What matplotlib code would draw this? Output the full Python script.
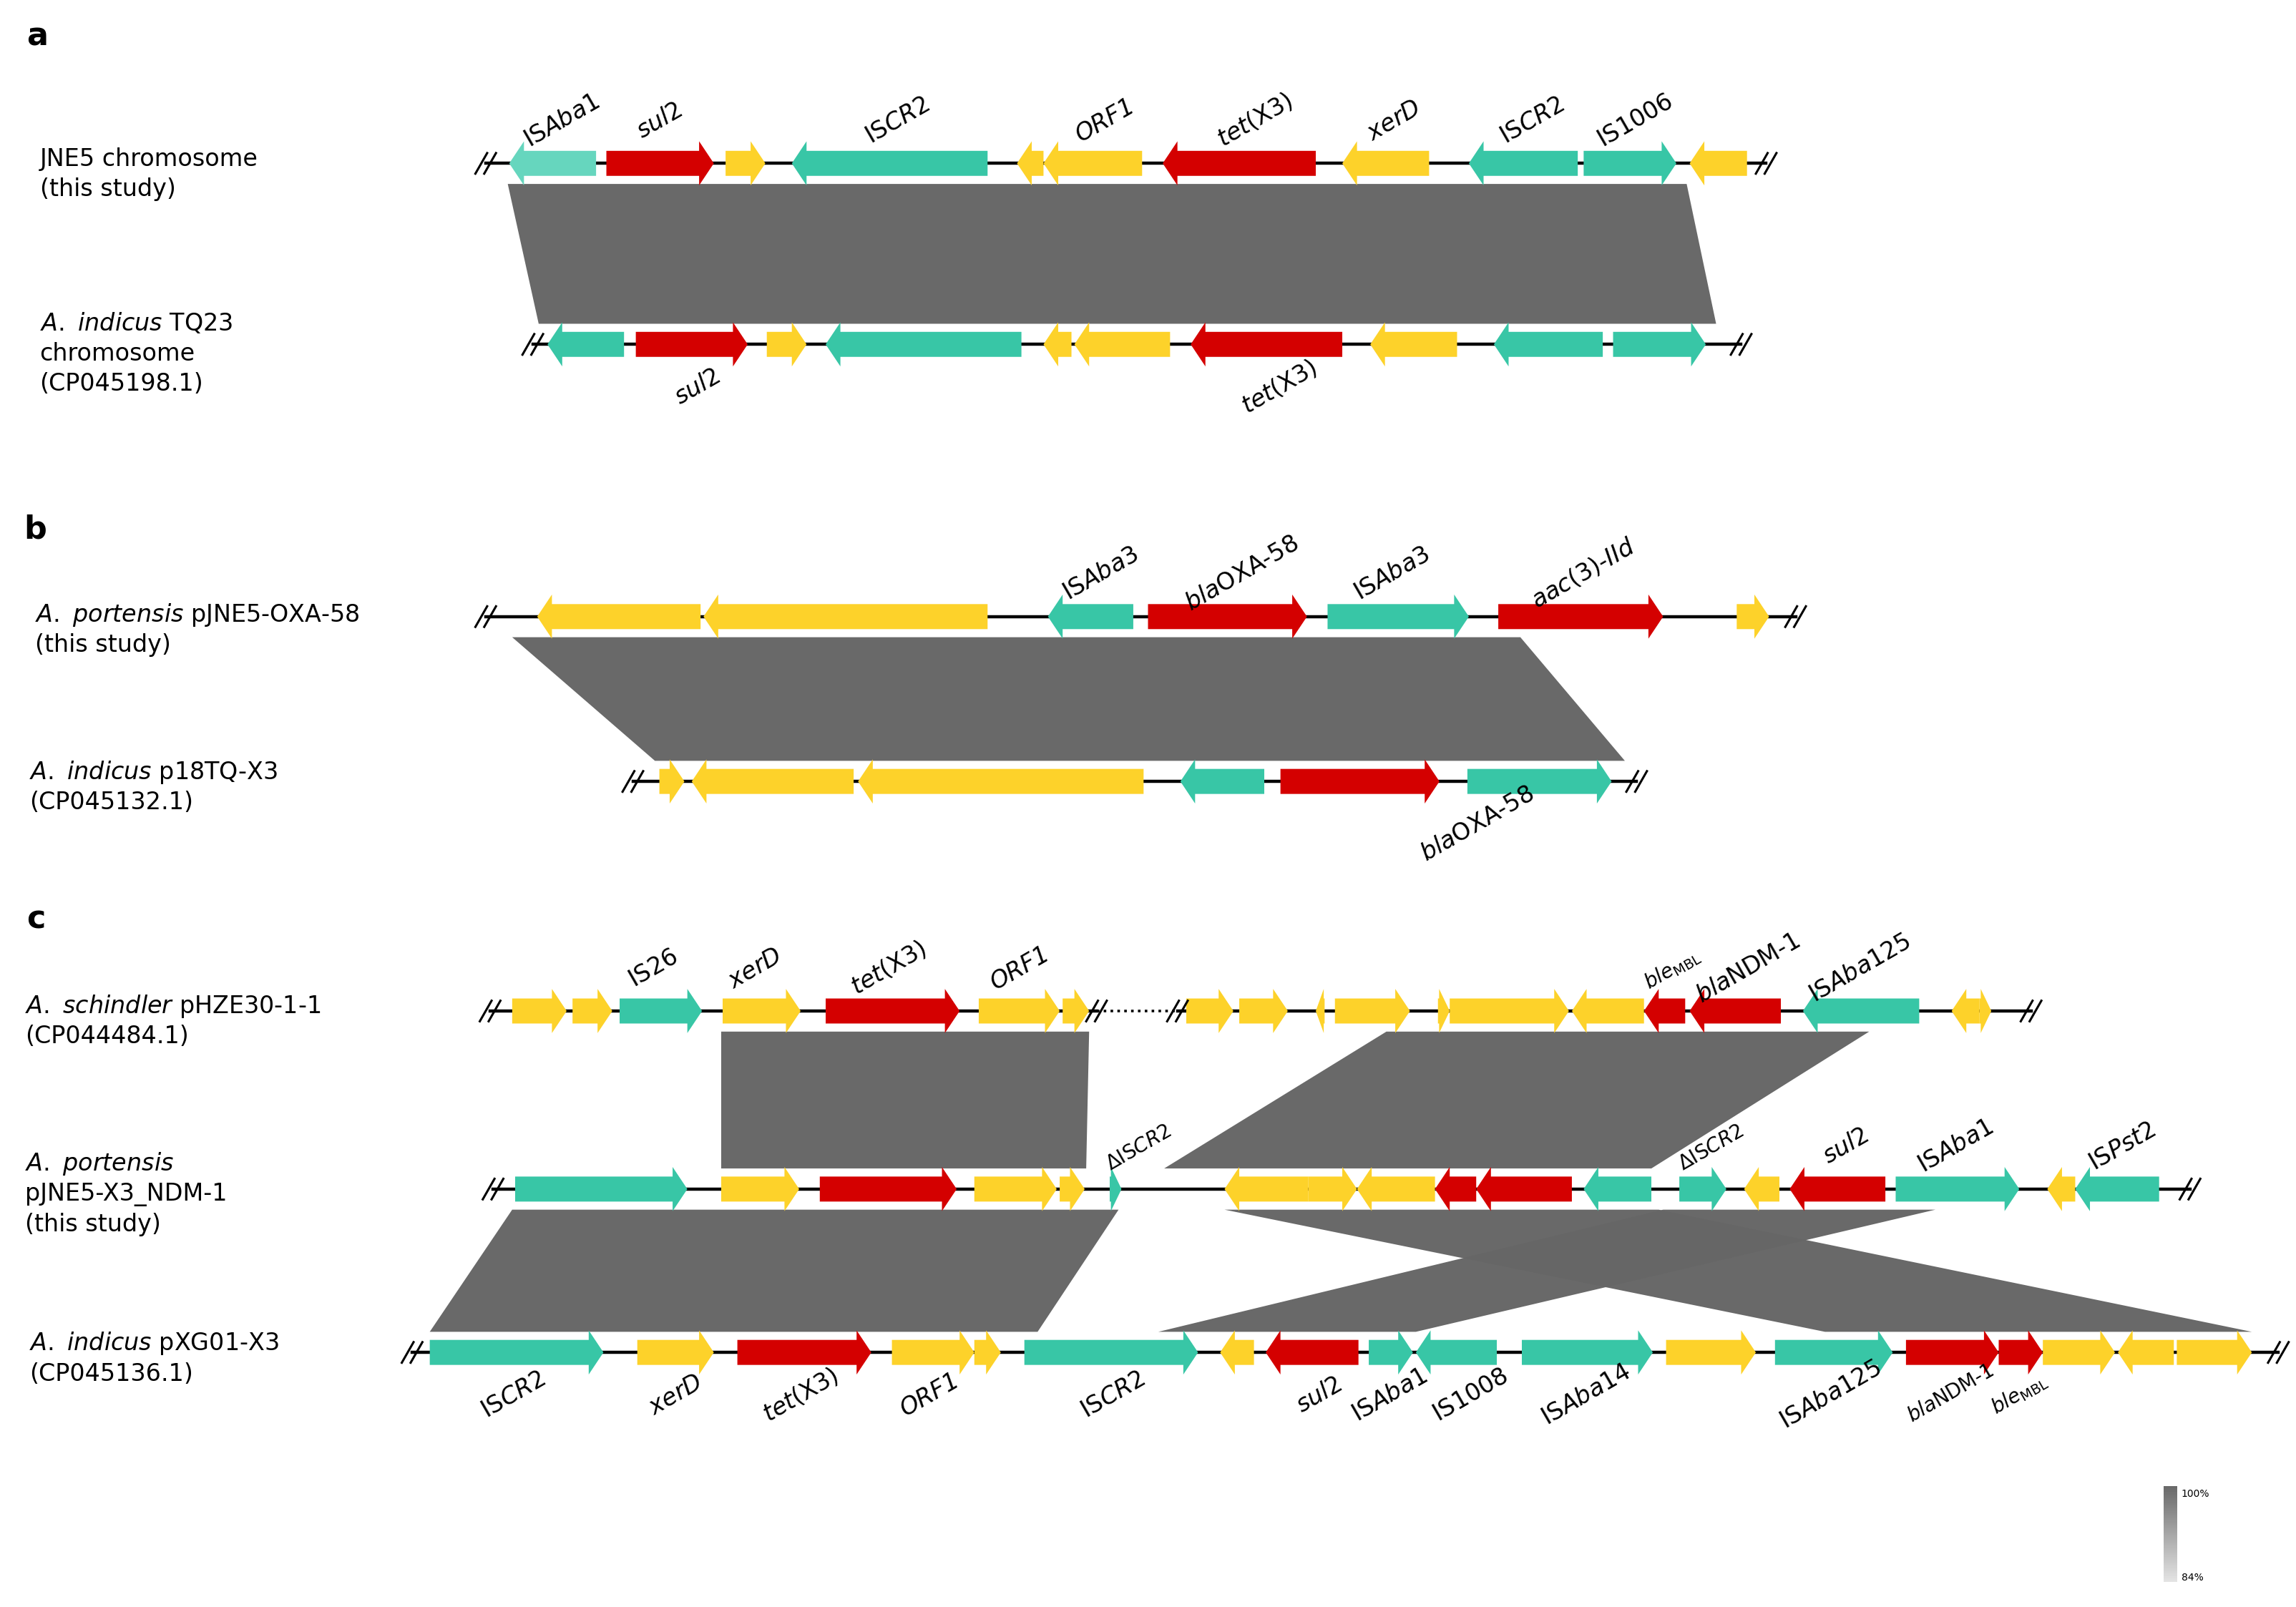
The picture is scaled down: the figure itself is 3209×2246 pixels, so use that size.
import matplotlib
matplotlib.use("Agg")
import matplotlib.pyplot as plt
from matplotlib.patches import Polygon
import numpy as np

plt.rcParams['font.family'] = ['DejaVu Sans']
plt.rcParams['mathtext.fontset'] = 'custom'
plt.rcParams['mathtext.it'] = 'DejaVu Sans:italic'
plt.rcParams['mathtext.rm'] = 'DejaVu Sans'

Y, T, R, L = '#FDD22A', '#38C6A6', '#D40000', '#66D6BE'

# ---------- tracks: (y, line_start, line_end) ----------
track_y = [111, 234, 419, 531, 687, 808, 919]
line_start = [330, 362, 330, 430, 333, 335, 280]
line_end = [1200, 1183, 1220, 1112, 1380, 1488, 1548]

# genes per track: start, end, strand (+1/-1), colour
a1_start = [346, 412, 493, 538, 691, 709, 790, 912, 998, 1076, 1148]
a1_end = [405, 485, 520, 671, 709, 776, 894, 971, 1072, 1139, 1187]
a1_strand = [-1, 1, 1, -1, -1, -1, -1, -1, -1, 1, -1]
a1_col = [L, R, Y, T, Y, Y, R, Y, T, T, Y]

a2_start = [372, 432, 521, 561, 709, 730, 809, 931, 1015, 1096]
a2_end = [424, 508, 548, 694, 728, 795, 912, 990, 1089, 1159]
a2_strand = [-1, 1, 1, -1, -1, -1, -1, -1, -1, 1]
a2_col = [T, R, Y, T, Y, Y, R, Y, T, T]

b1_start = [365, 478, 712, 780, 902, 1018, 1180]
b1_end = [476, 671, 770, 888, 998, 1130, 1202]
b1_strand = [-1, -1, -1, 1, 1, 1, 1]
b1_col = [Y, Y, T, R, T, R, Y]

b2_start = [448, 470, 583, 802, 870, 997]
b2_end = [465, 580, 777, 859, 978, 1095]
b2_strand = [1, -1, -1, -1, 1, 1]
b2_col = [Y, Y, Y, T, R, T]

c1_start = [348, 389, 421, 491, 561, 665, 722, 806, 842, 894, 907, 977, 985, 1068, 1117, 1148, 1225, 1326, 1345]
c1_end = [385, 416, 477, 544, 652, 720, 740, 838, 875, 900, 958, 985, 1066, 1117, 1145, 1210, 1304, 1345, 1353]
c1_strand = [1, 1, 1, 1, 1, 1, 1, 1, 1, -1, 1, 1, 1, -1, -1, -1, -1, -1, 1]
c1_col = [Y, Y, T, Y, R, Y, Y, Y, Y, Y, Y, Y, Y, Y, R, R, T, Y, Y]

c2_start = [350, 490, 557, 662, 720, 754, 832, 889, 922, 975, 1003, 1076, 1141, 1185, 1216, 1288, 1391, 1410]
c2_end = [467, 543, 650, 718, 737, 762, 889, 922, 975, 1003, 1068, 1122, 1173, 1209, 1281, 1372, 1410, 1467]
c2_strand = [1, 1, 1, 1, 1, 1, -1, 1, -1, -1, -1, -1, 1, -1, -1, 1, -1, -1]
c2_col = [T, Y, R, Y, Y, T, Y, Y, Y, R, R, T, T, Y, R, T, Y, T]

c3_start = [292, 433, 501, 606, 662, 696, 829, 860, 930, 962, 1034, 1132, 1206, 1295, 1358, 1388, 1439, 1479]
c3_end = [410, 485, 592, 662, 680, 814, 852, 923, 960, 1017, 1123, 1193, 1286, 1358, 1388, 1437, 1477, 1530]
c3_strand = [1, 1, 1, 1, 1, 1, -1, -1, 1, -1, 1, 1, 1, 1, 1, 1, -1, 1]
c3_col = [T, Y, R, Y, Y, T, Y, R, T, T, T, Y, T, R, R, Y, Y, Y]

genes = [
    (a1_start, a1_end, a1_strand, a1_col),
    (a2_start, a2_end, a2_strand, a2_col),
    (b1_start, b1_end, b1_strand, b1_col),
    (b2_start, b2_end, b2_strand, b2_col),
    (c1_start, c1_end, c1_strand, c1_col),
    (c2_start, c2_end, c2_strand, c2_col),
    (c3_start, c3_end, c3_strand, c3_col),
]

# gene labels: (track, x, text, above?)
lab_track = [0]*8 + [1, 1] + [2]*4 + [3] + [4]*7 + [5]*5 + [6]*12
lab_x = [386, 452, 614, 755, 857, 951, 1045, 1115,
         470, 865,
         752, 848, 950, 1080,
         1000,
         448, 517, 608, 697, 1140, 1192, 1268,
         777, 1166, 1258, 1333, 1446,
         345, 455, 540, 628, 752, 892, 940, 995, 1074, 1240, 1322, 1368]
lab_text = [r'IS$\it{Aba1}$', r'$\it{sul2}$', 'IS$\it{CR2}$', 'ORF1', r'$\it{tet}$(X3)', r'$\it{xerD}$', r'IS$\it{CR2}$', r'IS$\it{1006}$',
            r'$\it{sul2}$', r'$\it{tet}$(X3)',
            r'IS$\it{Aba3}$', r'$\it{bla}$OXA-58', r'IS$\it{Aba3}$', r'$\it{aac(3)}$-$\it{IId}$',
            r'$\it{bla}$OXA-58',
            r'IS$\it{26}$', r'$\it{xerD}$', r'$\it{tet}$(X3)', 'ORF1', r'$\it{ble}_{\rm MBL}$', r'$\it{bla}$NDM-1', r'IS$\it{Aba125}$',
            r'ΔIS$\it{CR2}$', r'ΔIS$\it{CR2}$', r'$\it{sul2}$', r'IS$\it{Aba1}$', r'IS$\it{Pst2}$',
            r'IS$\it{CR2}$', r'$\it{xerD}$', r'$\it{tet}$(X3)', 'ORF1', r'IS$\it{CR2}$', r'$\it{sul2}$', r'IS$\it{Aba1}$',
            r'IS$\it{1008}$', r'IS$\it{Aba14}$', r'IS$\it{Aba125}$', r'$\it{bla}$NDM-1', r'$\it{ble}_{\rm MBL}$']
lab_above = [True]*8 + [False]*2 + [True]*4 + [False] + [True]*7 + [True]*5 + [False]*12
lab_size = [12]*len(lab_x)
for i in (19, 22, 23, 37, 38):
    lab_size[i] = 10

# homology blocks: top track, top x0, top x1, bottom x0, bottom x1
blk_top = [0, 2, 4, 4, 5, 5, 5]
blk_tx0 = [345, 348, 490, 942, 348, 832, 1130]
blk_tx1 = [1146, 1033, 740, 1270, 760, 1127, 1315]
blk_bx0 = [366, 445, 490, 791, 292, 1240, 787]
blk_bx1 = [1166, 1104, 738, 1122, 705, 1530, 962]

names = [
    (108, ['JNE5 chromosome', '(this study)']),
    (220, [r'$\it{A.\ indicus}$ TQ23', 'chromosome', '(CP045198.1)']),
    (418, [r'$\it{A.\ portensis}$ pJNE5-OXA-58', '(this study)']),
    (525, [r'$\it{A.\ indicus}$ p18TQ-X3', '(CP045132.1)']),
    (684, [r'$\it{A.\ schindler}$ pHZE30-1-1', '(CP044484.1)']),
    (791, [r'$\it{A.\ portensis}$', 'pJNE5-X3_NDM-1', '(this study)']),
    (913, [r'$\it{A.\ indicus}$ pXG01-X3', '(CP045136.1)']),
]
name_x = [27, 27, 24, 20, 17, 17, 20]

# ---------------- drawing ----------------
fig = plt.figure(figsize=(3209/200, 2246/200), dpi=200)
ax = fig.add_axes([0, 0, 1, 1])
ax.set_xlim(0, 1560)
ax.set_ylim(1092, 0)
ax.axis('off')

BH, HH, HL = 8.5, 15, 10

def brk(x, y):
    for d in (-3, 3):
        ax.plot([x + d - 4, x + d + 4], [y + 7, y - 7], color='black', lw=1.1, zorder=4)

for ti, y in enumerate(track_y):
    x0, x1 = line_start[ti], line_end[ti]
    if ti == 4:
        ax.plot([x0, 745], [y, y], color='black', lw=1.6, zorder=1)
        ax.plot([745, 800], [y, y], color='black', lw=1.3, ls=':', zorder=1)
        ax.plot([800, x1], [y, y], color='black', lw=1.6, zorder=1)
        brk(745, y); brk(800, y)
    else:
        ax.plot([x0, x1], [y, y], color='black', lw=1.6, zorder=1)
    brk(x0, y); brk(x1, y)
    s, e, st, c = genes[ti]
    for a, b, d, col in zip(s, e, st, c):
        hl = min(HL, (b - a) * 0.9)
        if d > 0:
            pts = [(a, y - BH), (b - hl, y - BH), (b - hl, y - HH), (b, y), (b - hl, y + HH), (b - hl, y + BH), (a, y + BH)]
        else:
            pts = [(b, y - BH), (a + hl, y - BH), (a + hl, y - HH), (a, y), (a + hl, y + HH), (a + hl, y + BH), (b, y + BH)]
        ax.add_patch(Polygon(pts, closed=True, facecolor=col, edgecolor='none', zorder=3))

for t, a, b, c, d in zip(blk_top, blk_tx0, blk_tx1, blk_bx0, blk_bx1):
    yt = track_y[t] + 14
    yb = track_y[t + 1] - 14
    ax.add_patch(Polygon([(a, yt), (b, yt), (d, yb), (c, yb)], closed=True,
                         facecolor='#666666', edgecolor='none', alpha=0.98, zorder=2))

for t, x, txt, up, fs in zip(lab_track, lab_x, lab_text, lab_above, lab_size):
    y = track_y[t]
    sty = 'italic' if txt == 'ORF1' else 'normal'
    if up:
        ax.text(x, y - 22, txt, rotation=30, ha='center', va='bottom', rotation_mode='anchor',
                fontsize=fs, fontstyle=sty, zorder=5)
    else:
        ax.text(x, y + 22, txt, rotation=30, ha='center', va='top', rotation_mode='anchor',
                fontsize=fs, fontstyle=sty, zorder=5)

for (y, lines), x in zip(names, name_x):
    for k, ln in enumerate(lines):
        ax.text(x, y + 20.5 * k, ln, fontsize=12, va='center', ha='left')

for lbl, (x, y) in zip(['a', 'b', 'c'], [(18, 25), (16, 360), (18, 625)]):
    ax.text(x, y, lbl, fontsize=16, fontweight='bold', va='center')

grad = np.linspace(0, 1, 100).reshape(-1, 1)
ax.imshow(grad, cmap=matplotlib.colors.LinearSegmentedColormap.from_list('g', ['#6a6a6a', '#e4e4e4']),
          extent=[1470, 1479, 1075, 1010], aspect='auto', zorder=3)
ax.text(1482, 1015, '100%', fontsize=5, va='center')
ax.text(1482, 1072, '84%', fontsize=5, va='center')

fig.savefig('out.png', dpi=200)
